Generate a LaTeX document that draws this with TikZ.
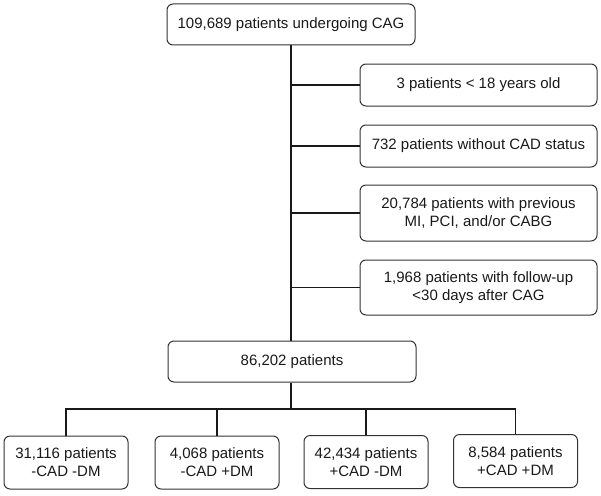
\documentclass[tikz,border=0pt]{standalone}
\usepackage{fontspec}
\setmainfont{Liberation Sans}
\begin{document}
\begin{tikzpicture}[x=1pt,y=-1pt,
  box/.style={draw=black!80, line width=1pt, rounded corners=6pt, inner sep=0pt,
    align=center, font=\fontsize{15}{18}\selectfont, text=black!90},
  conn/.style={draw=black!90, line width=1.4pt}]
\useasboundingbox (0,0) rectangle (601,495);
\node[box, minimum width=248pt, minimum height=41pt] (top) at (291,24.5) {109,689 patients undergoing CAG};
\node[box, minimum width=237pt, minimum height=42pt] (r1) at (478.5,85) {3 patients < 18 years old};
\node[box, minimum width=237pt, minimum height=42pt] (r2) at (478.5,146) {732 patients without CAD status};
\node[box, minimum width=237pt, minimum height=56pt] (r3) at (478.5,213) {20,784 patients with previous\\MI, PCI, and/or CABG};
\node[box, minimum width=237pt, minimum height=55pt] (r4) at (478.5,287.5) {1,968 patients with follow-up\\<30 days after CAG};
\node[box, minimum width=248pt, minimum height=41pt] (mid) at (292,361.5) {86,202 patients};
\node[box, minimum width=124pt, minimum height=53pt] (b1) at (66,462.5) {31,116 patients\\-CAD -DM};
\node[box, minimum width=124pt, minimum height=53pt] (b2) at (217,462.5) {4,068 patients\\-CAD +DM};
\node[box, minimum width=124pt, minimum height=53pt] (b3) at (366,462) {42,434 patients\\+CAD -DM};
\node[box, minimum width=124pt, minimum height=53pt] (b4) at (515.5,461) {8,584 patients\\+CAD +DM};
\coordinate (spine) at (291,0);
\coordinate (bus) at (291,409);
\draw[conn] (spine |- top.south) -- (spine |- mid.north);
\foreach \r in {r1,r2,r3,r4}{\draw[conn] (spine |- \r.west) -- (\r.west);}
\draw[conn] (spine |- mid.south) -- (bus);
\draw[conn] (b1.north) |- (bus) -| (b4.north);
\draw[conn] (b2.north) -- (b2.north |- bus);
\draw[conn] (b3.north) -- (b3.north |- bus);
\end{tikzpicture}
\end{document}
